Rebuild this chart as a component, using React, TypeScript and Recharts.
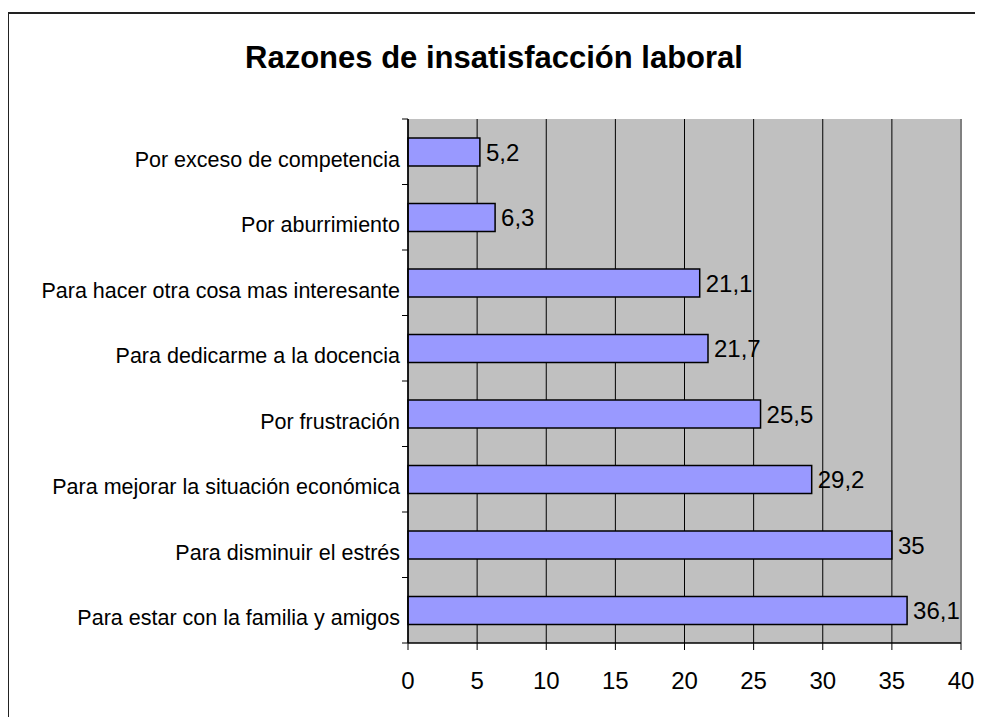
import {
  BarChart,
  Bar,
  XAxis,
  YAxis,
  CartesianGrid,
  LabelList,
  ReferenceLine,
} from "recharts";

const categories = [
  "Por exceso de competencia",
  "Por aburrimiento",
  "Para hacer otra cosa mas interesante",
  "Para dedicarme a la docencia",
  "Por frustración",
  "Para mejorar la situación económica",
  "Para disminuir el estrés",
  "Para estar con la familia y amigos",
];

const values = [5.2, 6.3, 21.1, 21.7, 25.5, 29.2, 35, 36.1];

const xTicks = [0, 5, 10, 15, 20, 25, 30, 35, 40];

const title = "Razones de insatisfacción laboral";

const data = categories.map((name, i) => ({ name, value: values[i] }));

const FONT = "'Liberation Sans', Arial, sans-serif";

// category labels sit a bit below the bar, ticks fall between categories
function CategoryTick(props: any) {
  const { x, y, payload, index } = props;
  const half = payload.offset ?? 0;
  const last = index === categories.length - 1;
  return (
    <g>
      <line x1={x - 6} x2={x} y1={y - half} y2={y - half} stroke="#000" strokeWidth={1} />
      {last && (
        <line x1={x - 6} x2={x} y1={y + half} y2={y + half} stroke="#000" strokeWidth={1} />
      )}
      <text
        x={x - 8}
        y={y + 15}
        textAnchor="end"
        fontSize={21.5}
        fontFamily={FONT}
        fill="#000"
      >
        {payload.value}
      </text>
    </g>
  );
}

export default function App() {
  return (
    <div style={{ position: "relative", width: 983, height: 717 }}>
      <div
        style={{
          position: "absolute",
          left: -1,
          top: 4,
          width: 1000,
          height: 740,
          border: "2px solid #222",
        }}
      />
      <div
        style={{
          position: "absolute",
          left: -8,
          top: 34,
          width: 988,
          textAlign: "center",
          fontFamily: FONT,
          fontWeight: "bold",
          fontSize: 31,
          lineHeight: "31px",
          color: "#000",
        }}
      >
        {title}
      </div>
      <div style={{ position: "absolute", left: -8, top: -8 }}>
        <BarChart
          width={983}
          height={717}
          data={data}
          layout="vertical"
          margin={{ top: 119, right: 22, bottom: 14, left: 8 }}
        >
          <CartesianGrid
            horizontal={false}
            stroke="#000"
            strokeWidth={1}
            fill="#C0C0C0"
            fillOpacity={1}
          />
          <ReferenceLine x={40} stroke="#808080" strokeWidth={2} />
          <XAxis
            type="number"
            domain={[0, 40]}
            ticks={xTicks}
            interval={0}
            height={60}
            tickSize={7}
            tickMargin={22}
            axisLine={{ stroke: "#000", strokeWidth: 1.5 }}
            tickLine={{ stroke: "#000" }}
            tick={{ fontSize: 24, fill: "#000", fontFamily: FONT }}
          />
          <XAxis
            xAxisId="top"
            orientation="top"
            type="number"
            domain={[0, 40]}
            height={0}
            tick={false}
            tickLine={false}
            axisLine={{ stroke: "#808080", strokeWidth: 2 }}
          />
          <YAxis
            type="category"
            dataKey="name"
            width={400}
            interval={0}
            tickSize={0}
            tickMargin={0}
            tickLine={false}
            axisLine={{ stroke: "#000", strokeWidth: 1.5 }}
            tick={<CategoryTick />}
          />
          <Bar
            dataKey="value"
            fill="#9999FF"
            stroke="#000"
            strokeWidth={1.5}
            barSize={28}
            isAnimationActive={false}
          >
            <LabelList
              dataKey="value"
              position="right"
              offset={6}
              formatter={(v: any) => String(v).replace(".", ",")}
              fontSize={24}
              fill="#000"
              fontFamily={FONT}
            />
          </Bar>
        </BarChart>
      </div>
    </div>
  );
}
